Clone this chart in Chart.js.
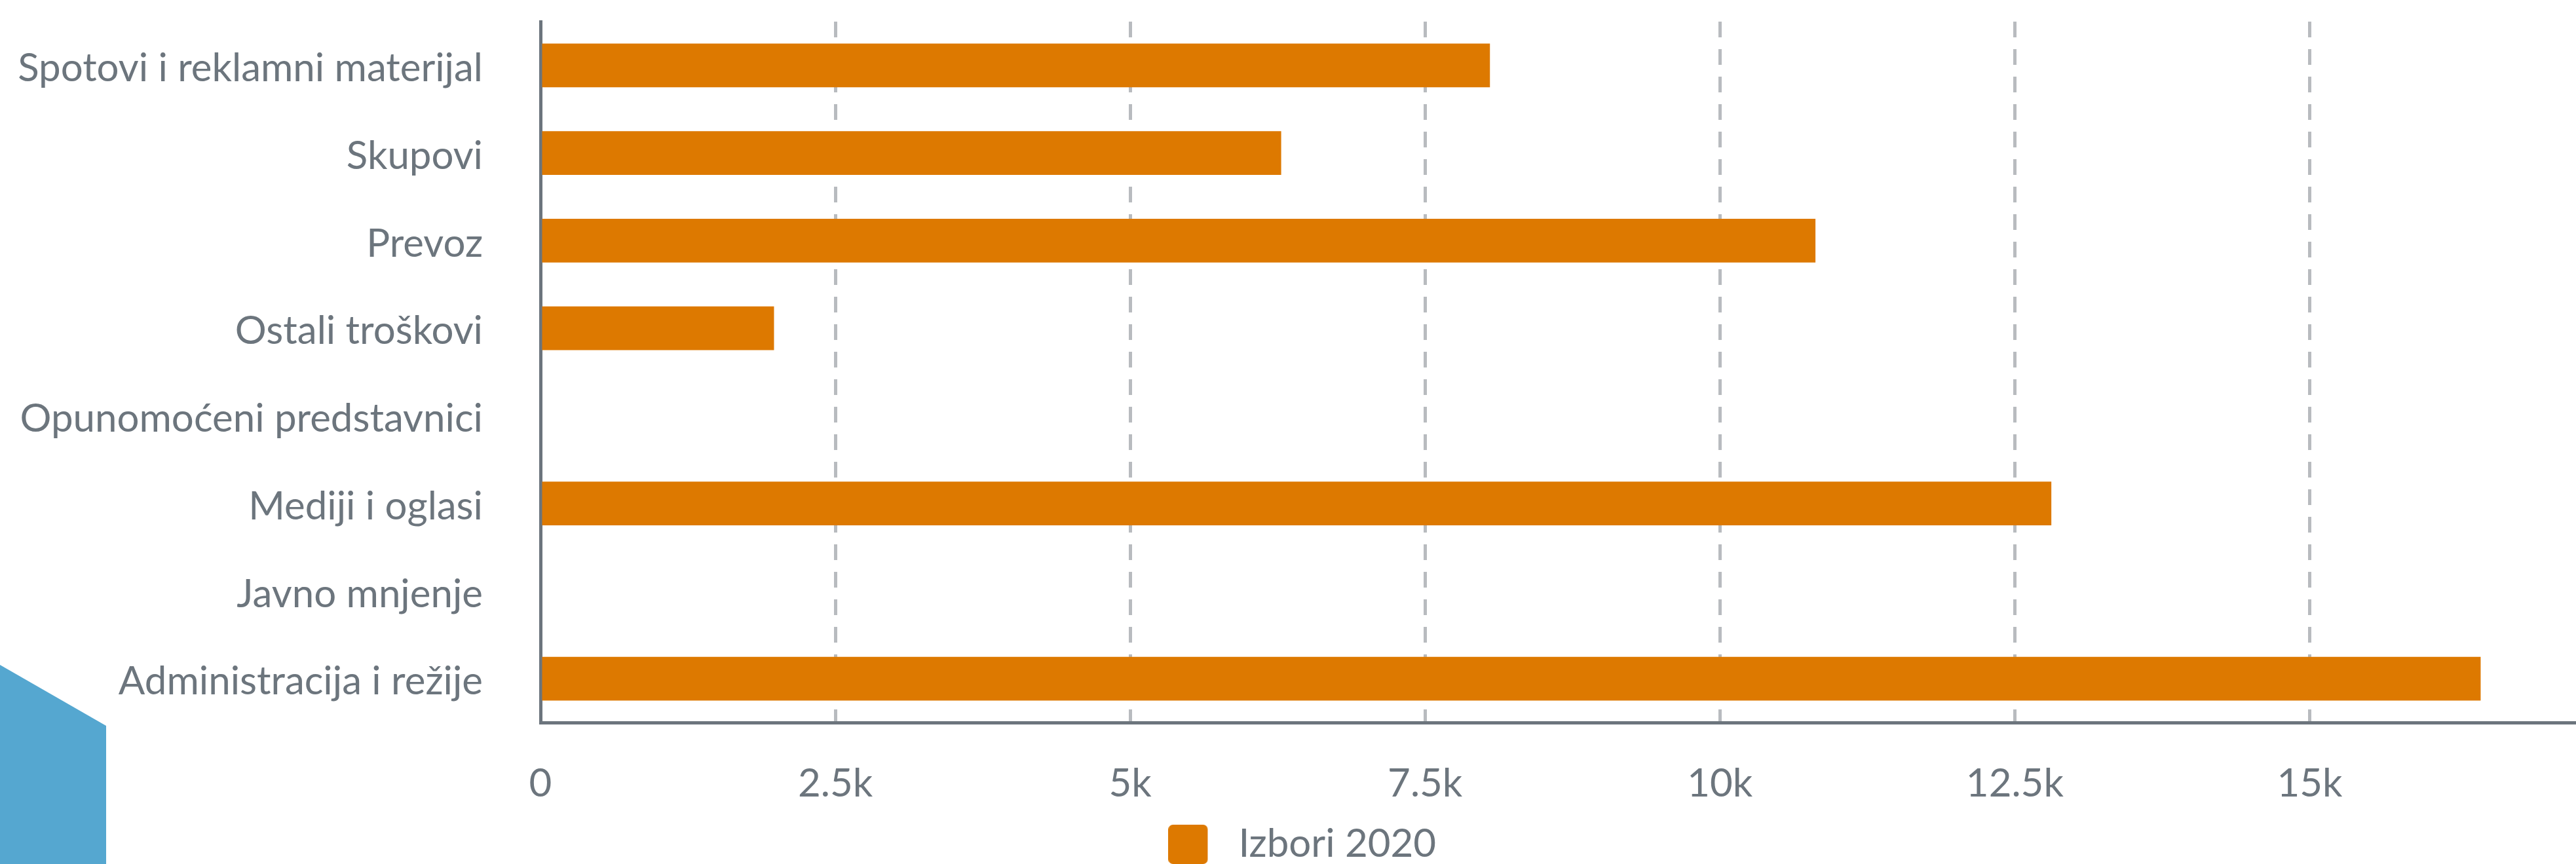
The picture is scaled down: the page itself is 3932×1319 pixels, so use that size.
<!DOCTYPE html>
<html>
<head>
<meta charset="utf-8">
<script src="https://cdn.jsdelivr.net/npm/chart.js@4.4.1/dist/chart.umd.min.js"></script>
<style>
  html, body { margin: 0; padding: 0; background: #fff; overflow: hidden; width: 3932px; height: 1319px; }
  #deco { position: absolute; left: 0; top: 1015px; width: 162px; height: 400px; background: #55a7d0;
          clip-path: polygon(0 0, 100% 93px, 100% 100%, 0 100%); }
  #wrap { position: absolute; left: 0; top: 0; width: 3980px; height: 1329px; }
</style>
</head>
<body>
<div id="deco"></div>
<div id="wrap"><canvas id="chart"></canvas></div>
<script>
  // Data
  const categories = [
    'Spotovi i reklamni materijal',
    'Skupovi',
    'Prevoz',
    'Ostali troškovi',
    'Opunomoćeni predstavnici',
    'Mediji i oglasi',
    'Javno mnjenje',
    'Administracija i režije'
  ];
  const seriesName = 'Izbori 2020';
  const izbori2020 = [8050, 6280, 10810, 1980, 0, 12810, 0, 16450];
  const xTickLabels = ['0', '2.5k', '5k', '7.5k', '10k', '12.5k', '15k'];

  const textColor = '#6c757d';
  const barColor = '#dd7900';
  const clear = 'rgba(0,0,0,0)';

  // legend swatch: rounded square on the left of a slightly wider canvas,
  // so the label text sits a bit further away than the default gap
  const swatch = document.createElement('canvas');
  swatch.width = 77;
  swatch.height = 60;
  const sctx = swatch.getContext('2d');
  sctx.fillStyle = barColor;
  sctx.beginPath();
  sctx.roundRect(0, 0, 60, 60, 7);
  sctx.fill();

  Chart.defaults.font.family = 'Lato';
  Chart.defaults.font.size = 60;
  Chart.defaults.color = textColor;

  new Chart(document.getElementById('chart'), {
    type: 'bar',
    data: {
      labels: categories,
      datasets: [{
        label: seriesName,
        data: izbori2020,
        backgroundColor: barColor,
        borderWidth: 0,
        barPercentage: 0.5,
        categoryPercentage: 1
      }]
    },
    options: {
      indexAxis: 'y',
      responsive: true,
      maintainAspectRatio: false,
      animation: false,
      layout: { padding: { top: 33, right: 4.5, left: 0, bottom: 0 } },
      plugins: {
        legend: {
          position: 'bottom',
          labels: { usePointStyle: true, pointStyle: swatch, pointStyleWidth: 77, boxHeight: 60, padding: 26 }
        },
        tooltip: { enabled: false }
      },
      scales: {
        x: {
          min: 0,
          max: 17500,
          ticks: {
            stepSize: 2500,
            padding: 0,
            callback: (v, i) => xTickLabels[i] ?? ''
          },
          grid: { color: '#b8bbbf', lineWidth: 5, drawTicks: true, tickLength: 58, tickColor: clear },
          border: { color: textColor, width: 5, dash: [24, 18] }
        },
        y: {
          z: 1,
          afterFit: s => { s.width = 825; },
          ticks: { padding: 0, labelOffset: 5, font: { lineHeight: 1 } },
          grid: { color: clear, drawOnChartArea: false, drawTicks: true, tickLength: 88, tickColor: clear },
          border: { color: textColor, width: 5 }
        }
      }
    }
  });
</script>
</body>
</html>
